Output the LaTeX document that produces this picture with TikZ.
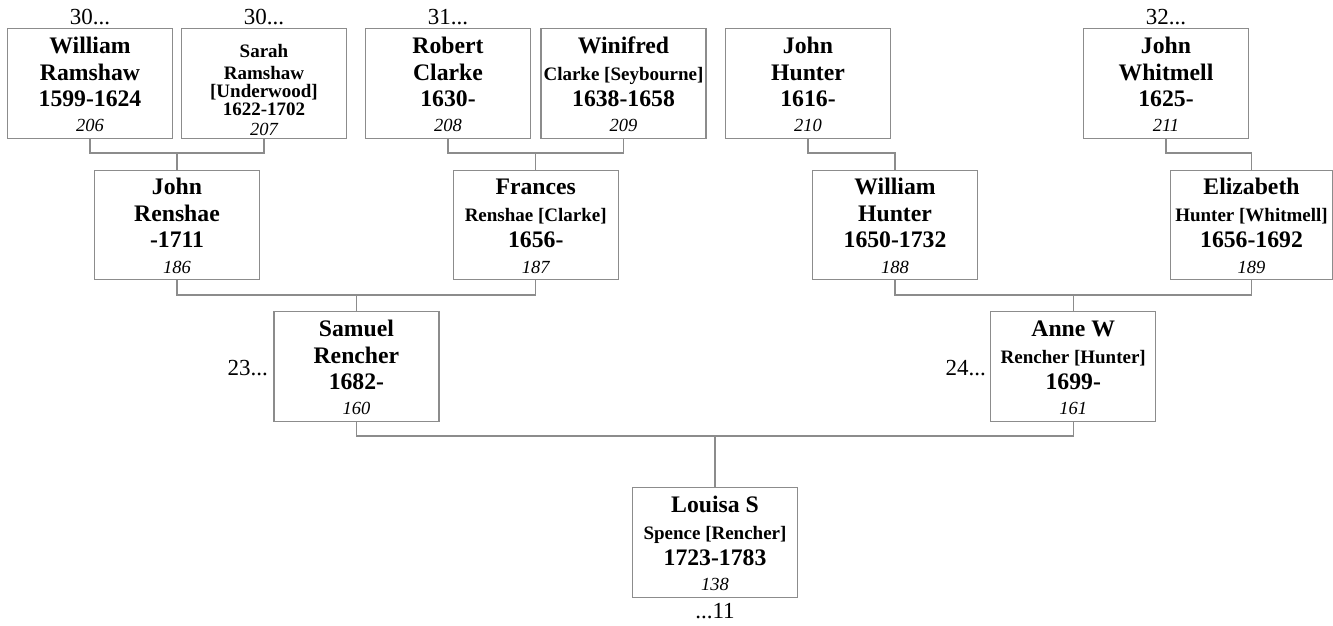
\documentclass[tikz,border=0pt]{standalone}
\usepackage{fontspec}
\setmainfont{Liberation Serif}
\usetikzlibrary{calc}
\definecolor{boxgray}{RGB}{140,140,140}
\newcommand\fbig{\fontsize{23.7}{26}\selectfont\bfseries}
\newcommand\fsm{\fontsize{19}{21}\selectfont\bfseries}
\newcommand\fnum{\fontsize{18.5}{21}\selectfont\itshape}
\newcommand\flab{\fontsize{23}{25}\selectfont}
\tikzset{
  pbox/.style={draw=boxgray, line width=1.3pt, minimum width=165pt, minimum height=109.5pt, anchor=north, inner sep=0pt},
  conn/.style={draw=boxgray, line width=1.3pt},
  txt/.style={anchor=base, inner sep=0pt},
}
\newcommand\person[8][]{%
  \node[pbox,#1] (#2) at (#3,#4) {};
  \node[txt] (#2-a) at ([yshift=-25pt]#2.north) {#5};
  \node[txt] (#2-b) at ([yshift=-52pt]#2.north) {#6};
  \node[txt] (#2-c) at ([yshift=-78pt]#2.north) {#7};
  \node[txt] (#2-n) at ([yshift=-103.5pt]#2.north) {\fnum #8};
}
\begin{document}
\begin{tikzpicture}[x=1pt,y=-1pt]
\useasboundingbox (0,0) rectangle (1333,625);
% row 1
\person{wr}{90}{28}{\fbig William}{\fbig Ramshaw}{\fbig 1599-1624}{206}
\node[pbox] (sr) at (264,28) {};
\node[txt] (sr-a) at ([yshift=-29pt]sr.north) {\fsm Sarah};
\node[txt] (sr-b) at ([yshift=-51pt]sr.north) {\fsm Ramshaw};
\node[txt] (sr-c) at ([yshift=-69.5pt]sr.north) {\fsm [Underwood]};
\node[txt] (sr-d) at ([yshift=-87.5pt]sr.north) {\fsm 1622-1702};
\node[txt] (sr-n) at ([yshift=-107pt]sr.north) {\fnum 207};
\person{rc}{448}{28}{\fbig Robert}{\fbig Clarke}{\fbig 1630-}{208}
\person{wc}{623.5}{28}{\fbig Winifred}{\fsm Clarke [Seybourne]}{\fbig 1638-1658}{209}
\person{jh}{808}{28}{\fbig John}{\fbig Hunter}{\fbig 1616-}{210}
\person{jw}{1166}{28}{\fbig John}{\fbig Whitmell}{\fbig 1625-}{211}
% row 2
\person{jr}{177}{169.5}{\fbig John}{\fbig Renshae}{\fbig -1711}{186}
\person{fr}{535.75}{169.5}{\fbig Frances}{\fsm Renshae [Clarke]}{\fbig 1656-}{187}
\person{wh}{895}{169.5}{\fbig William}{\fbig Hunter}{\fbig 1650-1732}{188}
\person[minimum width=162pt]{eh}{1251.5}{169.5}{\fbig Elizabeth}{\fsm Hunter [Whitmell]}{\fbig 1656-1692}{189}
% row 3
\person{sam}{356.4}{311}{\fbig Samuel}{\fbig Rencher}{\fbig 1682-}{160}
\person{an}{1073.25}{311}{\fbig Anne W}{\fsm Rencher [Hunter]}{\fbig 1699-}{161}
% row 4
\person{lo}{715}{487}{\fbig Louisa S}{\fsm Spence [Rencher]}{\fbig 1723-1783}{138}
% labels
\node[txt] (l30a) at (90,24) {\flab 30...};
\node[txt] (l30b) at (264,24) {\flab 30...};
\node[txt] (l31) at (448,24) {\flab 31...};
\node[txt] (l32) at (1166,24) {\flab 32...};
\node[anchor=base east, inner sep=0pt] (l23) at (268,375) {\flab 23...};
\node[anchor=base east, inner sep=0pt] (l24) at (986,375) {\flab 24...};
\node[txt] (l11) at (715,618) {\flab ...11};
% connectors
\coordinate (m1) at (177,153);
\coordinate (m2) at (535.75,153);
\coordinate (m3) at (895,153);
\coordinate (m4) at (1251.5,153);
\coordinate (m5) at (356.4,295);
\coordinate (m6) at (1073.25,295);
\coordinate (m7) at (715,436);
\draw[conn] (wr.south) |- (m1) -| (sr.south);
\draw[conn] (m1) -- (jr.north);
\draw[conn] (rc.south) |- (m2) -| (wc.south);
\draw[conn] (m2) -- (fr.north);
\draw[conn] (jh.south) |- (m3) -- (wh.north);
\draw[conn] (jw.south) |- (m4) -- (eh.north);
\draw[conn] (jr.south) |- (m5) -| (fr.south);
\draw[conn] (m5) -- (sam.north);
\draw[conn] (wh.south) |- (m6) -| (eh.south);
\draw[conn] (m6) -- (an.north);
\draw[conn] (sam.south) |- (m7) -| (an.south);
\draw[conn] (m7) -- (lo.north);
\end{tikzpicture}
\end{document}
